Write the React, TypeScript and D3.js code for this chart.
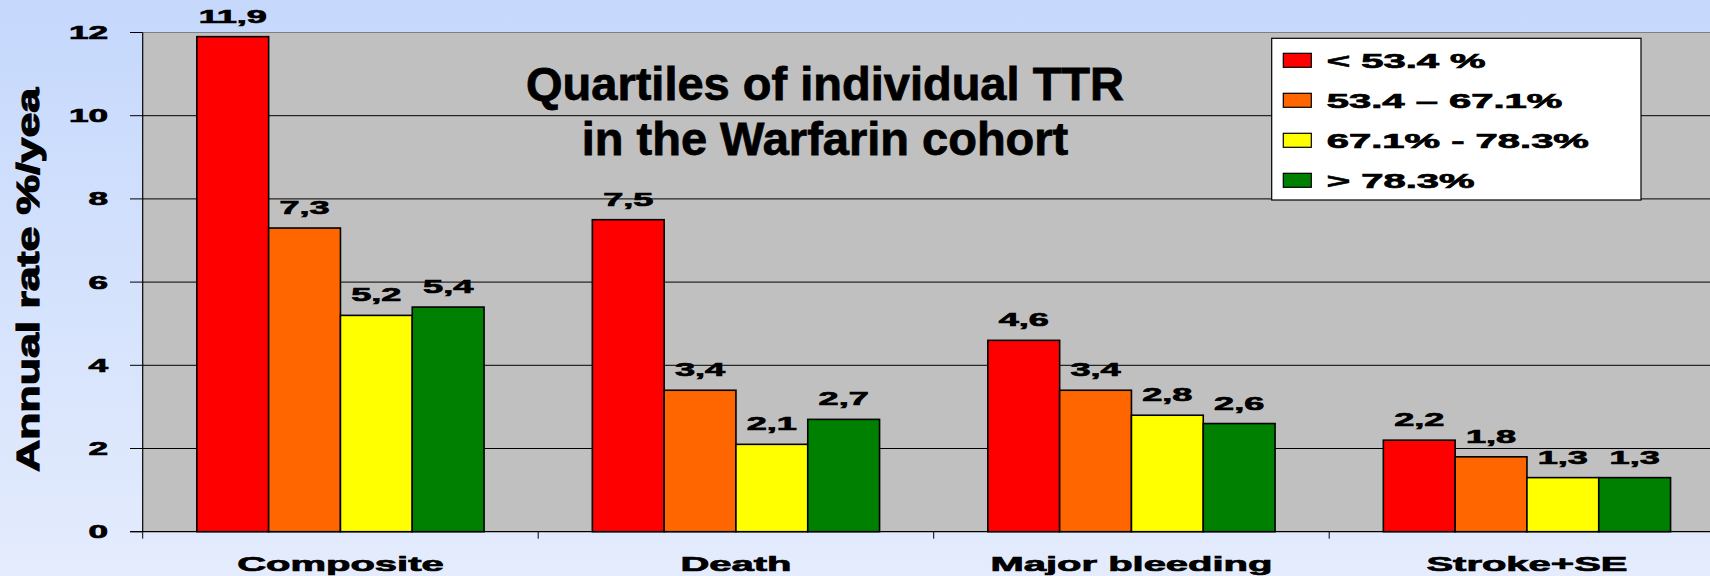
import * as d3 from 'd3';
import React from 'react';

// Chart data
const categories = ['Composite', 'Death', 'Major bleeding', 'Stroke+SE'];
const seriesNames = ['< 53.4 %', '53.4 \u2013 67.1%', '67.1% - 78.3%', '> 78.3%'];
const seriesColors = ['#ff0000', '#ff6600', '#ffff00', '#008000'];
const q1Values = [11.9, 7.5, 4.6, 2.2];
const q2Values = [7.3, 3.4, 3.4, 1.8];
const q3Values = [5.2, 2.1, 2.8, 1.3];
const q4Values = [5.4, 2.7, 2.6, 1.3];
const yTicks = [0, 2, 4, 6, 8, 10, 12];
const titleLines = ['Quartiles of individual TTR', 'in the Warfarin cohort'];
const yTitle = 'Annual rate %/yea';

const seriesValues = [q1Values, q2Values, q3Values, q4Values];

export default function App() {
    // Basic layout consts
    const width = 1710;
    const height = 576;
    const plot = { left: 142.7, right: 1724.7, top: 32.5, bottom: 531.7 };
    const font = '"Liberation Sans", Arial, sans-serif';
    // chart text in the source is stretched sideways and very heavy
    const SX = 1.95;
    const heavy = { fill: '#000', stroke: '#000', strokeWidth: 0.7, fontWeight: 'bold' as const };

    const x0 = d3.scaleBand()
        .domain(categories)
        .range([plot.left, plot.right])
        .padding(0);

    const x1 = d3.scaleBand()
        .domain(seriesNames)
        .range([0, x0.bandwidth()])
        .paddingInner(0)
        .paddingOuter(0.754);

    const y = d3.scaleLinear()
        .domain([0, 12])
        .range([plot.bottom, plot.top]);

    const fmt = d3.formatLocale({
        decimal: ',', thousands: '.', grouping: [3], currency: ['', ''],
    }).format('.1f');

    return (
        <div>
            <style>{'body{margin:0}'}</style>
            <svg width={width} height={height} style={{ display: 'block' }} fontFamily={font}>
                <defs>
                    <linearGradient id="bg" x1="0" y1="0" x2="0" y2="1">
                        <stop offset="0" stopColor="#c5d8fc" />
                        <stop offset="1" stopColor="#e4ecfd" />
                    </linearGradient>
                </defs>
                <rect x={0} y={0} width={width} height={height} fill="url(#bg)" />

                {/* plot area */}
                <rect x={plot.left} y={plot.top} width={plot.right - plot.left}
                    height={plot.bottom - plot.top} fill="#c0c0c0" />
                <line x1={plot.left} x2={plot.right} y1={plot.top} y2={plot.top}
                    stroke="#808080" strokeWidth={1.2} />

                {/* gridlines */}
                {yTicks.filter((t) => t > 0 && t < 12).map((t) => (
                    <line key={`g${t}`} x1={plot.left} x2={plot.right} y1={y(t)} y2={y(t)}
                        stroke="#000" strokeWidth={1} />
                ))}

                {/* bars */}
                {categories.map((c, ci) => (
                    <g key={c} transform={`translate(${x0(c)},0)`}>
                        {seriesNames.map((s, si) => {
                            const v = seriesValues[si][ci];
                            const bx = x1(s);
                            return (
                                <g key={s}>
                                    <rect x={bx} y={y(v)} width={x1.bandwidth()} height={y(0) - y(v)}
                                        fill={seriesColors[si]} stroke="#000" strokeWidth={1.6} />
                                    <text transform={`translate(${bx + x1.bandwidth() / 2},${y(v) - 14}) scale(${SX},1)`}
                                        textAnchor="middle" fontSize={18.5} {...heavy}>
                                        {fmt(v)}
                                    </text>
                                </g>
                            );
                        })}
                    </g>
                ))}

                {/* y axis */}
                <line x1={plot.left} x2={plot.left} y1={plot.top} y2={plot.bottom} stroke="#000" strokeWidth={1.2} />
                {yTicks.map((t) => (
                    <g key={`t${t}`}>
                        <line x1={130} x2={plot.left} y1={y(t)} y2={y(t)} stroke="#000" strokeWidth={1} />
                        <text transform={`translate(108,${y(t) + 6.5}) scale(${SX},1)`} textAnchor="end"
                            fontSize={18} {...heavy}>{t}</text>
                    </g>
                ))}
                <text transform="translate(39,280) rotate(-90)" textAnchor="middle" fontSize={31}
                    {...heavy} strokeWidth={1.2} textLength={384} lengthAdjust="spacingAndGlyphs">
                    {yTitle}
                </text>

                {/* x axis */}
                <line x1={130} x2={width} y1={plot.bottom} y2={plot.bottom} stroke="#000" strokeWidth={1.2} />
                {categories.map((c) => (
                    <g key={`x${c}`}>
                        <line x1={x0(c)} x2={x0(c)} y1={plot.bottom} y2={plot.bottom + 7} stroke="#000" strokeWidth={1} />
                        <text transform={`translate(${x0(c) + x0.bandwidth() / 2},570.5) scale(${SX},1)`}
                            textAnchor="middle" fontSize={20.5} {...heavy}>{c}</text>
                    </g>
                ))}

                {/* title */}
                {titleLines.map((t, i) => (
                    <text key={t} x={825} y={100 + i * 55} textAnchor="middle" fontSize={47}
                        {...heavy} strokeWidth={0.8}>{t}</text>
                ))}

                {/* legend */}
                <rect x={1271.7} y={38.3} width={369.3} height={161.7} fill="#fff" stroke="#000" strokeWidth={1.2} />
                {seriesNames.map((s, i) => (
                    <g key={`l${s}`} transform={`translate(1283.3,${53.3 + i * 40})`}>
                        <rect x={0} y={0} width={28} height={14} fill={seriesColors[i]} stroke="#000" strokeWidth={1.2} />
                        <text transform={`translate(43.5,15) scale(${SX},1)`} fontSize={20.5} {...heavy}>{s}</text>
                    </g>
                ))}
            </svg>
        </div>
    );
}
